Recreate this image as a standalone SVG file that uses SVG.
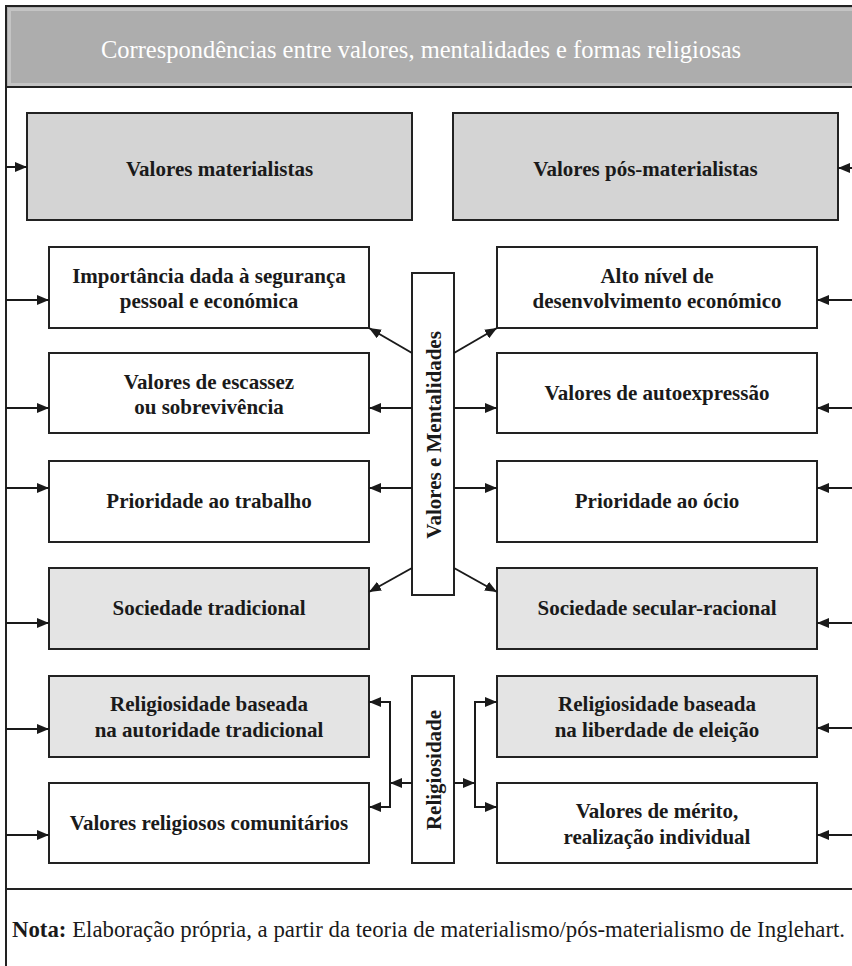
<svg xmlns="http://www.w3.org/2000/svg" width="852" height="966" viewBox="0 0 852 966">
<defs>
<marker id="ah" viewBox="0 0 12 10" refX="12" refY="5" markerWidth="12" markerHeight="10" markerUnits="userSpaceOnUse" orient="auto">
<path d="M0,0 L12,5 L0,10 Z" fill="#1a1a1a"/>
</marker>
<style>
.frame{stroke:#222;stroke-width:2;fill:none}
.box{stroke:#222;stroke-width:2;fill:#fff}
.g1{fill:#d4d4d4}
.g2{fill:#e4e4e4}
.t{font-family:"Liberation Serif","Times New Roman",serif;font-weight:bold;font-size:21px;fill:#1a1a1a;text-anchor:middle}
.title{font-family:"Liberation Serif","Times New Roman",serif;font-size:24.5px;fill:#fff;text-anchor:middle}
.nota{font-family:"Liberation Serif","Times New Roman",serif;font-size:22.8px;fill:#1a1a1a}
.c{stroke:#1a1a1a;stroke-width:2;fill:none}
.ca{stroke:#1a1a1a;stroke-width:2;fill:none;marker-end:url(#ah)}
</style>
</defs>
<rect width="852" height="966" fill="#fff"/>

<g id="header">
<rect x="7" y="7" width="850" height="80" fill="#adadad"/>
<rect x="9.5" y="9.5" width="850" height="75" fill="none" stroke="#c4c4c4" stroke-width="3"/>
<text class="title" x="421" y="58">Correspondências entre valores, mentalidades e formas religiosas</text>
</g>

<g id="frame">
<line class="frame" x1="6" y1="6" x2="852" y2="6"/>
<line class="frame" x1="6" y1="5" x2="6" y2="966"/>
<line class="frame" x1="6" y1="87" x2="852" y2="87"/>
<line class="frame" x1="6" y1="889" x2="852" y2="889"/>
</g>

<g id="n-materialistas">
<rect class="box g1" x="27" y="113" width="385" height="107"/>
<text class="t" x="219.5" y="176">Valores materialistas</text>
</g>
<g id="n-posmaterialistas">
<rect class="box g1" x="453" y="113" width="385" height="107"/>
<text class="t" x="645.5" y="176">Valores pós-materialistas</text>
</g>

<g id="n-seguranca">
<rect class="box" x="49" y="247" width="320" height="81"/>
<text class="t" x="209" y="283">Importância dada à segurança</text>
<text class="t" x="209" y="308">pessoal e económica</text>
</g>
<g id="n-desenvolvimento">
<rect class="box" x="497" y="247" width="320" height="81"/>
<text class="t" x="657" y="283">Alto nível de</text>
<text class="t" x="657" y="308">desenvolvimento económico</text>
</g>

<g id="n-escassez">
<rect class="box" x="49" y="353" width="320" height="80"/>
<text class="t" x="209" y="389">Valores de escassez</text>
<text class="t" x="209" y="414">ou sobrevivência</text>
</g>
<g id="n-autoexpressao">
<rect class="box" x="497" y="353" width="320" height="80"/>
<text class="t" x="657" y="400">Valores de autoexpressão</text>
</g>

<g id="n-trabalho">
<rect class="box" x="49" y="461" width="320" height="81"/>
<text class="t" x="209" y="508">Prioridade ao trabalho</text>
</g>
<g id="n-ocio">
<rect class="box" x="497" y="461" width="320" height="81"/>
<text class="t" x="657" y="508">Prioridade ao ócio</text>
</g>

<g id="n-tradicional">
<rect class="box g2" x="49" y="568" width="320" height="81"/>
<text class="t" x="209" y="615">Sociedade tradicional</text>
</g>
<g id="n-secular">
<rect class="box g2" x="497" y="568" width="320" height="81"/>
<text class="t" x="657" y="615">Sociedade secular-racional</text>
</g>

<g id="n-relig-autoridade">
<rect class="box g2" x="49" y="676" width="320" height="81"/>
<text class="t" x="209" y="711">Religiosidade baseada</text>
<text class="t" x="209" y="737">na autoridade tradicional</text>
</g>
<g id="n-relig-liberdade">
<rect class="box g2" x="497" y="676" width="320" height="81"/>
<text class="t" x="657" y="711">Religiosidade baseada</text>
<text class="t" x="657" y="737">na liberdade de eleição</text>
</g>

<g id="n-comunitarios">
<rect class="box" x="49" y="783" width="320" height="80"/>
<text class="t" x="209" y="830">Valores religiosos comunitários</text>
</g>
<g id="n-merito">
<rect class="box" x="497" y="783" width="320" height="80"/>
<text class="t" x="657" y="818">Valores de mérito,</text>
<text class="t" x="657" y="844">realização individual</text>
</g>

<g id="n-valores-mentalidades">
<rect class="box" x="412" y="273" width="42" height="322"/>
<text class="t" transform="translate(441,435) rotate(-90)">Valores e Mentalidades</text>
</g>
<g id="n-religiosidade">
<rect class="box" x="412" y="676" width="42" height="187"/>
<text class="t" transform="translate(441,770) rotate(-90)">Religiosidade</text>
</g>

<g id="connectors">
<line class="ca" x1="6" y1="167" x2="27" y2="167"/>
<line class="ca" x1="6" y1="300" x2="49" y2="300"/>
<line class="ca" x1="6" y1="408" x2="49" y2="408"/>
<line class="ca" x1="6" y1="488" x2="49" y2="488"/>
<line class="ca" x1="6" y1="623" x2="49" y2="623"/>
<line class="ca" x1="6" y1="729" x2="49" y2="729"/>
<line class="ca" x1="6" y1="835" x2="49" y2="835"/>

<line class="ca" x1="852" y1="168" x2="838" y2="168"/>
<line class="ca" x1="852" y1="300" x2="817" y2="300"/>
<line class="ca" x1="852" y1="408" x2="817" y2="408"/>
<line class="ca" x1="852" y1="488" x2="817" y2="488"/>
<line class="ca" x1="852" y1="623" x2="817" y2="623"/>
<line class="ca" x1="852" y1="728" x2="817" y2="728"/>
<line class="ca" x1="852" y1="835" x2="817" y2="835"/>

<line class="ca" x1="412" y1="353" x2="369" y2="328"/>
<line class="ca" x1="454" y1="353" x2="497" y2="328"/>
<line class="ca" x1="412" y1="408" x2="369" y2="408"/>
<line class="ca" x1="454" y1="408" x2="497" y2="408"/>
<line class="ca" x1="412" y1="488" x2="369" y2="488"/>
<line class="ca" x1="454" y1="488" x2="497" y2="488"/>
<line class="ca" x1="412" y1="568" x2="369" y2="592"/>
<line class="ca" x1="454" y1="568" x2="497" y2="592"/>

<line class="ca" x1="412" y1="783" x2="390" y2="783"/>
<line class="c" x1="390" y1="701" x2="390" y2="808"/>
<line class="ca" x1="390" y1="702" x2="369" y2="702"/>
<line class="ca" x1="390" y1="807" x2="369" y2="807"/>

<line class="ca" x1="454" y1="783" x2="475" y2="783"/>
<line class="c" x1="475" y1="701" x2="475" y2="808"/>
<line class="ca" x1="475" y1="702" x2="497" y2="702"/>
<line class="ca" x1="475" y1="807" x2="497" y2="807"/>
</g>

<g id="nota">
<text class="nota" x="12" y="937"><tspan font-weight="bold">Nota:</tspan> Elaboração própria, a partir da teoria de materialismo/pós-materialismo de Inglehart.</text>
</g>
</svg>
